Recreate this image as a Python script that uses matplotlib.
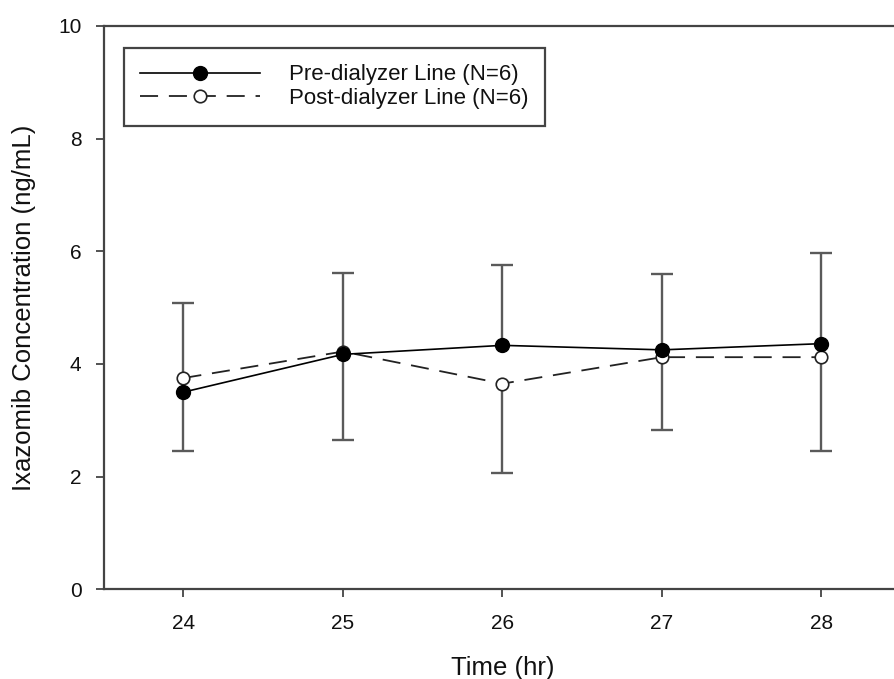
import matplotlib.pyplot as plt
import numpy as np

plt.rcParams['font.family'] = ['Liberation Sans', 'DejaVu Sans']

# data
time_hr = [24, 25, 26, 27, 28]
pre_mean = [3.50, 4.17, 4.33, 4.25, 4.36]
pre_sd = [1.58, 1.45, 1.42, 1.35, 1.61]
post_mean = [3.75, 4.22, 3.65, 4.12, 4.12]
post_sd = [1.30, 1.57, 1.58, 1.30, 1.67]

x_ticks = [24, 25, 26, 27, 28]
y_ticks = [0, 2, 4, 6, 8, 10]

fig = plt.figure(figsize=(8.94, 6.79), dpi=100)
# right edge of the axes runs slightly past the figure, as in the cropped original
ax = fig.add_axes([0.116, 0.132, 0.892, 0.830])

bar_col = '#5a5a5a'
x = np.array(time_hr)
pre = np.array(pre_mean)
post = np.array(post_mean)
pre_top = pre + np.array(pre_sd)
post_bot = post - np.array(post_sd)

# one-sided error bars: up for pre-dialyzer, down for post-dialyzer
ax.vlines(x, pre, pre_top, color=bar_col, lw=1.7, zorder=1)
ax.vlines(x, post_bot, post, color=bar_col, lw=1.7, zorder=1)
ax.plot(x, pre_top, ls='none', marker='_', ms=16, mew=1.7, color=bar_col, zorder=1)
ax.plot(x, post_bot, ls='none', marker='_', ms=16, mew=1.7, color=bar_col, zorder=1)

ax.plot(x, post, ls=(0, (10, 6)), color='#222222', lw=1.3, marker='o', ms=9,
        mfc='white', mec='#222222', mew=1.2, zorder=2,
        label='Post-dialyzer Line (N=6)')
ax.plot(x, pre, ls='-', color='black', lw=1.2, marker='o', ms=10,
        mfc='black', mec='black', zorder=3,
        label='Pre-dialyzer Line (N=6)')

ax.set_xlim(23.5, 28.5)
ax.set_ylim(0, 10)
ax.set_xticks(x_ticks)
ax.set_yticks(y_ticks)
ax.tick_params(direction='out', length=6, width=1.3, labelsize=15, colors='#444444',
               labelcolor='#111111')
ax.tick_params(axis='x', pad=12)
ax.tick_params(axis='y', pad=10)
for s in ax.spines.values():
    s.set_color('#444444')
    s.set_linewidth(1.6)

ax.set_xlabel('Time (hr)', fontsize=18.5, labelpad=16, color='#111111')
ax.set_ylabel('Ixazomib Concentration (ng/mL)', fontsize=18.5, labelpad=16,
              color='#111111')

handles, labels = ax.get_legend_handles_labels()
leg = ax.legend(handles[::-1], labels[::-1], loc='upper left',
                bbox_to_anchor=(0.025, 0.961), fontsize=16, handlelength=5.4,
                handletextpad=1.3, borderpad=0.75, labelspacing=0.12,
                fancybox=False, framealpha=1, borderaxespad=0)
leg.get_frame().set_edgecolor('#444444')
leg.get_frame().set_linewidth(1.6)
for t in leg.get_texts():
    t.set_color('#111111')

fig.savefig('out.png', dpi=100)
